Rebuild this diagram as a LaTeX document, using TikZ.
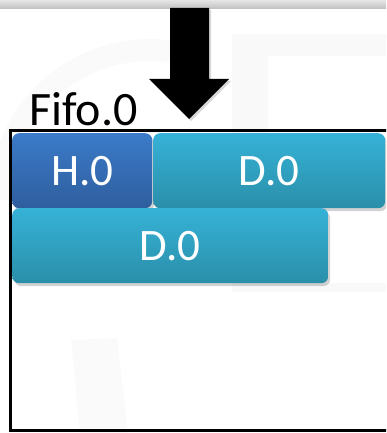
\documentclass[tikz,border=0pt]{standalone}
\usepackage{fontspec}
\setmainfont{Carlito}
\usepackage{tikz}
\usetikzlibrary{positioning,shadows}

\definecolor{hblue}{HTML}{3B7BC9}
\definecolor{hbluedark}{HTML}{2F5E9E}
\definecolor{dteal}{HTML}{36B2D7}
\definecolor{dtealdark}{HTML}{2A8FA9}

\tikzset{
  cell/.style={rounded corners=7pt, inner sep=0pt, text=white,
    font=\fontsize{45}{45}\selectfont, anchor=north west,
    drop shadow={shadow xshift=2pt, shadow yshift=-3pt, opacity=0.35}},
  hcell/.style={cell, top color=hblue, bottom color=hbluedark},
  dcell/.style={cell, top color=dteal, bottom color=dtealdark},
}

\begin{document}
\begin{tikzpicture}[x=1pt,y=-1pt]
\useasboundingbox (0,0) rectangle (386,433);
\clip (0,0) rectangle (386,433);

% faint logo in the background
\fill[gray!5] (232,34) rectangle (390,292);
\fill[white] (268,56) rectangle (390,283);
\fill[gray!4] (71,340) -- (117,338) -- (128,433) -- (80,433) -- cycle;
\draw[gray!4, line width=22pt] (0,200) arc[start angle=180, end angle=280, radius=150];

% top bar
\shade[top color=gray!20, bottom color=gray!50] (0,0) rectangle (386,9);

% arrow
\fill[black, drop shadow={shadow xshift=2pt, shadow yshift=-2pt, opacity=0.3}]
  (170,8) -- (209,8) -- (209,79) -- (229,79) -- (189,119) -- (149,79) -- (170,79) -- cycle;

% fifo
\node[anchor=base west, inner sep=0pt, font=\fontsize{48}{48}\selectfont] (lbl) at (29,125) {Fifo.0};
\draw[line width=3pt] (400,130) -- (10,130) -- (10,430) -- (400,430);

% cells
\node[hcell, minimum width=140pt, minimum height=75pt] (h0) at (12,133) {H.0};
\node[dcell, minimum width=232pt, minimum height=75pt] (d0) at (153,133) {D.0};
\node[dcell, minimum width=316pt, minimum height=75pt] (d1) at (12,208) {D.0};
\end{tikzpicture}
\end{document}
